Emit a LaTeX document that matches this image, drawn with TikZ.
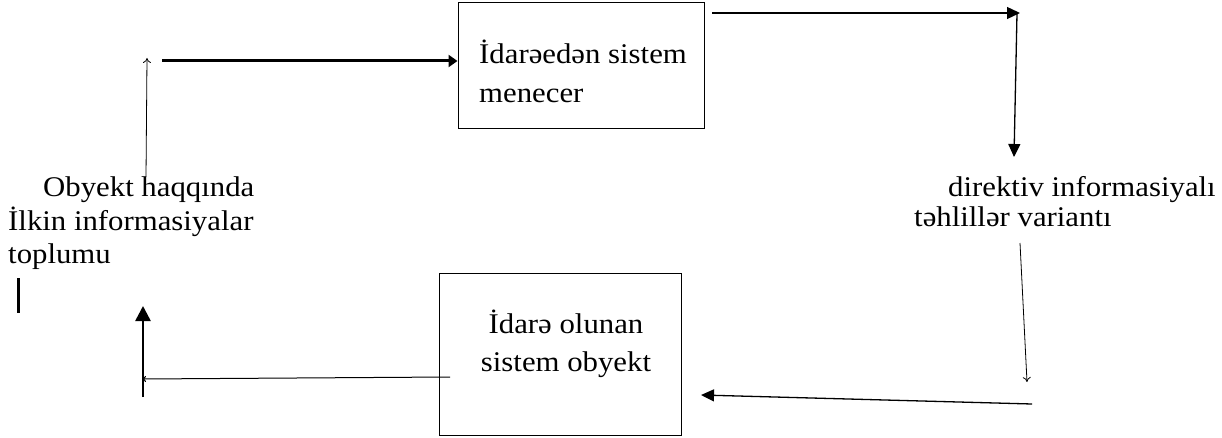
\documentclass[tikz,border=0pt]{standalone}
\usepackage{fontspec}
\setmainfont[FakeStretch=1.08]{Liberation Serif}
\usetikzlibrary{arrows.meta}
\tikzset{
  boxst/.style={draw, line width=1pt, inner sep=0pt},
  txt/.style={inner sep=0pt, font=\fontsize{28.5}{33}\selectfont},
  thinarr/.style={line width=0.8pt, -{To[length=5pt,width=8pt]}},
  midarr/.style={line width=1.3pt, -{Triangle[length=13pt,width=12pt]}},
  thickarr/.style={line width=3pt, -{Triangle[length=9pt,width=12pt]}},
  bigarr/.style={line width=2.5pt, -{Triangle[length=15pt,width=15pt]}},
  plainln/.style={line width=1pt}
}
\begin{document}
\begin{tikzpicture}[x=1pt,y=-1pt]
\useasboundingbox (0,0) rectangle (1222,438);
% boxes
\node[boxst, minimum width=246pt, minimum height=126pt] (mgr) at (581,66) {};
\node[txt, anchor=base west] (mgrA) at (479,64) {İdarəedən sistem};
\node[txt, anchor=base west] (mgrB) at (479,103) {menecer};
\node[boxst, minimum width=242pt, minimum height=162pt] (obj) at (560,354) {};
\node[txt, anchor=base] (objA) at (566,333) {İdarə olunan};
\node[txt, anchor=base] (objB) at (566,371) {sistem obyekt};
% labels
\node[txt, anchor=base west] (leftA) at (43,197) {Obyekt haqqında};
\node[txt, anchor=base west] (leftB) at (8,230) {İlkin informasiyalar};
\node[txt, anchor=base west] (leftC) at (8,263) {toplumu};
\node[txt, anchor=base west] (rightA) at (948,197) {direktiv informasiyalı};
\node[txt, anchor=base west] (rightB) at (914,227) {təhlillər variantı};
% coordinates
\coordinate (upS) at (146,177);
\coordinate (upE) at (147,58);
\coordinate (thS) at (162,61);
\coordinate (trS) at (712,13);
\coordinate (trE) at (1020,13);
\coordinate (dnS) at (1017,13);
\coordinate (dnE) at (1014,157);
\coordinate (dgS) at (1020,243);
\coordinate (dgE) at (1027,382);
\coordinate (btS) at (1032,404);
\coordinate (btE) at (701,395);
\coordinate (blS) at (450,377);
\coordinate (blE) at (143,379);
\coordinate (tkS) at (143,397);
\coordinate (tkE) at (143,306);
\coordinate (barA) at (18,278);
\coordinate (barB) at (18,313);
% connectors
\draw[thinarr] (upS) -- (upE);
\draw[thickarr] (thS) -- (thS -| mgr.west);
\draw[midarr] (trS) -- (trE);
\draw[midarr] (dnS) -- (dnE);
\draw[thinarr] (dgS) -- (dgE);
\draw[midarr] (btS) -- (btE);
\draw[plainln, -{To[length=3pt,width=6pt]}] (blS) -- (blE);
\draw[bigarr] (tkS) -- (tkE);
\draw[line width=3pt] (barA) -- (barB);
\end{tikzpicture}
\end{document}
